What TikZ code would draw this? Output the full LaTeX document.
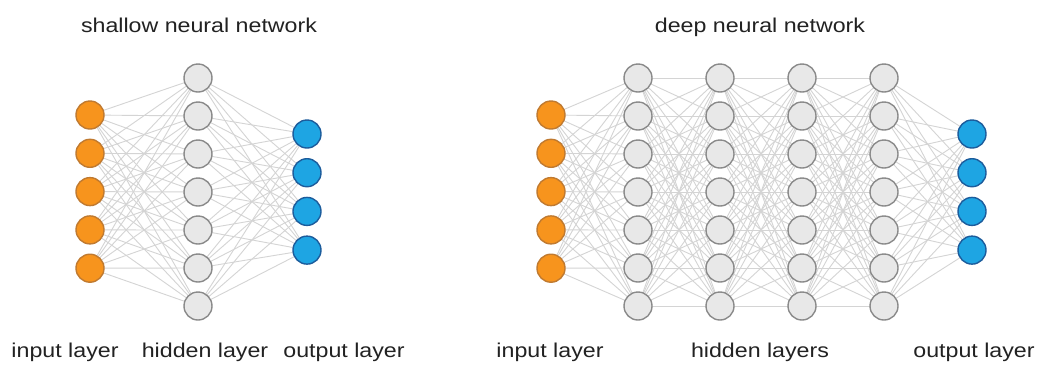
\documentclass[tikz,border=0pt]{standalone}
\usepackage{fontspec}
\setmainfont{Liberation Sans}
\usetikzlibrary{backgrounds}
\definecolor{edgec}{HTML}{D4D4D4}
\definecolor{hidfill}{HTML}{E8E8E8}
\definecolor{hiddraw}{HTML}{8A8A8A}
\definecolor{infill}{HTML}{F7941D}
\definecolor{indraw}{HTML}{C07A30}
\definecolor{outfill}{HTML}{1EA5E3}
\definecolor{outdraw}{HTML}{1C5C9C}
\definecolor{txt}{HTML}{222222}
\begin{document}
\begin{tikzpicture}[x=1pt,y=-1pt,
  neuron/.style={circle,minimum size=28pt,inner sep=0pt,line width=1.4pt},
  inneuron/.style={neuron,fill=infill,draw=indraw},
  hidneuron/.style={neuron,fill=hidfill,draw=hiddraw},
  outneuron/.style={neuron,fill=outfill,draw=outdraw},
  conn/.style={draw=edgec,line width=0.9pt},
  lbl/.style={font=\fontsize{20}{24}\selectfont,text=txt,xscale=1.16,transform shape,inner sep=0pt,anchor=base}]
\useasboundingbox (0,0) rectangle (1038,365);
% ---------- shallow network ----------
\foreach \i in {0,...,4} \node[inneuron] (si\i) at (90,{115+38.3*\i}) {};
\foreach \i in {0,...,6} \node[hidneuron] (sh\i) at (198,{78+38*\i}) {};
\foreach \i in {0,...,3} \node[outneuron] (so\i) at (307,{134+38.7*\i}) {};
% ---------- deep network ----------
\foreach \i in {0,...,4} \node[inneuron] (di\i) at (551,{115+38.3*\i}) {};
\foreach \l/\x in {1/638,2/720,3/802,4/884}
  \foreach \i in {0,...,6} \node[hidneuron] (dh\l-\i) at (\x,{78+38*\i}) {};
\foreach \i in {0,...,3} \node[outneuron] (do\i) at (972,{134+38.7*\i}) {};
\begin{scope}[on background layer]
\fill[white] (0,0) rectangle (1038,365);
\foreach \i in {0,...,4} \foreach \j in {0,...,6} \draw[conn] (si\i.center) -- (sh\j.center);
\foreach \i in {0,...,6} \foreach \j in {0,...,3} \draw[conn] (sh\i.center) -- (so\j.center);
\foreach \i in {0,...,4} \foreach \j in {0,...,6} \draw[conn] (di\i.center) -- (dh1-\j.center);
\foreach \l/\m in {1/2,2/3,3/4}
  \foreach \i in {0,...,6} \foreach \j in {0,...,6} \draw[conn] (dh\l-\i.center) -- (dh\m-\j.center);
\foreach \i in {0,...,6} \foreach \j in {0,...,3} \draw[conn] (dh4-\i.center) -- (do\j.center);
\end{scope}
% ---------- labels ----------
\node[lbl] (t1) at (199,32) {shallow neural network};
\node[lbl] (t2) at (760,32) {deep neural network};
\node[lbl] (l1) at (65,357) {input layer};
\node[lbl] (l2) at (205,357) {hidden layer};
\node[lbl] (l3) at (344,357) {output layer};
\node[lbl] (l4) at (550,357) {input layer};
\node[lbl] (l5) at (760,357) {hidden layers};
\node[lbl] (l6) at (974,357) {output layer};
\end{tikzpicture}
\end{document}
